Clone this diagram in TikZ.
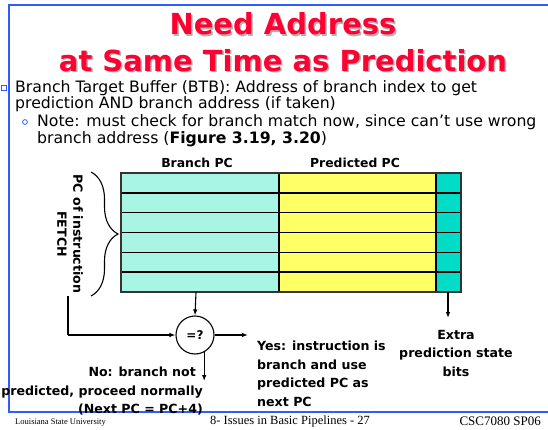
\documentclass[tikz,border=0pt]{standalone}
\usepackage{fontspec}
\setmainfont{DejaVu Sans}
\newfontfamily\footfont{Liberation Serif}
\usetikzlibrary{decorations.pathreplacing,arrows.meta}
\definecolor{frameblue}{HTML}{2E5CFF}
\definecolor{titlered}{HTML}{FF0033}
\definecolor{aquacell}{HTML}{A8F5E4}
\definecolor{yellowcell}{HTML}{FFFF66}
\definecolor{tealcell}{HTML}{00DCC6}
\begin{document}
\begin{tikzpicture}[x=1pt,y=-1pt,
  titletext/.style={anchor=base,text=titlered,font=\fontsize{29}{34}\selectfont\bfseries,inner sep=0},
  titleshade/.style={anchor=base,text=black!30,font=\fontsize{29}{34}\selectfont\bfseries,inner sep=0},
  bodytext/.style={anchor=north west,align=left,inner sep=0,font=\fontsize{15.7}{15.5}\selectfont},
  hdr/.style={font=\fontsize{12.4}{14}\selectfont\bfseries,inner sep=0},
  lbl/.style={font=\fontsize{12.6}{18.5}\selectfont\bfseries,inner sep=0},
  conn/.style={line width=1.1pt,-{Latex[length=6pt,width=4.5pt]}},
  rowline/.style={line width=1.4pt,black},
  footer/.style={font=\footfont,inner sep=0}]
\useasboundingbox (0,0) rectangle (548,430);
\fill[white] (0,0) rectangle (548,430);

% slide frame
\draw[frameblue,line width=1.6pt] (548,5) -- (9,5) -- (9,412) -- (548,412);

% title with drop shadow
\node[titleshade] at (284.5,36.5) {Need Address};
\node[titletext] (title1) at (283,35) {Need Address};
\node[titleshade] at (284.5,73) {at Same Time as Prediction};
\node[titletext] (title2) at (283,71.5) {at Same Time as Prediction};

% bullets
\draw[frameblue,line width=0.8pt] (1,85) rectangle (6,90);
\draw[frameblue,line width=0.8pt] (25,122) circle (2.4);
\node[bodytext] (body1) at (15,80.5) {Branch Target Buffer (BTB): Address of branch index to get\\prediction AND branch address (if taken)};
\node[bodytext,font=\fontsize{15.7}{17}\selectfont] (body2) at (37,114.5) {Note: must check for branch match now, since can't use wrong\\branch address (\textbf{Figure 3.19, 3.20})};

% branch target buffer table
\fill[aquacell] (121,173) rectangle (279,292);
\fill[yellowcell] (279,173) rectangle (436,292);
\fill[tealcell] (436,173) rectangle (461,292);
\foreach \i in {1,...,5}{
  \draw[rowline] (121,173+\i*19.83) -- (461,173+\i*19.83);
}
\draw[rowline] (279,173) -- (279,292);
\draw[rowline] (436,173) -- (436,292);
\draw[line width=1.3pt,black!80] (121,173) rectangle (461,292);

\node[hdr] (bpc) at (197,163) {Branch PC};
\node[hdr] (ppc) at (355,163) {Predicted PC};

% fetch PC brace
\draw[decorate,decoration={brace,amplitude=27pt},line width=1.1pt] (91,172) -- (91,296);
\node[hdr,rotate=-90,align=center,font=\fontsize{12.6}{16}\selectfont\bfseries] (fetch) at (70,234) {PC of instruction\\FETCH};

% comparator
\node[draw,circle,line width=1.1pt,minimum size=38pt,inner sep=0,font=\fontsize{12}{13}\selectfont\bfseries] (cmp) at (195,335) {=?};
\coordinate (feed) at (68,296);
\coordinate (bpcbot) at (196,292);
\coordinate (xbot) at (448,292);
\coordinate (xend) at (448,318);
\coordinate (yesin) at (248,335);
\coordinate (noend) at (204,381);

\draw[line width=1.1pt] (feed) -- (68,335);
\draw[conn] (68,335) -- (cmp.west);
\draw[conn] (bpcbot) -- (cmp.north);
\draw[conn] (cmp.east) -- (yesin);
\draw[conn] (cmp.-62) -- (cmp.-62 |- noend);
\draw[conn] (xbot) -- (xend);

% outcome labels
\node[lbl,anchor=north west,align=left] (yes) at (257,341) {Yes: instruction is\\branch and use\\predicted PC as\\next PC};
\node[lbl,anchor=north,align=center] (extra) at (456,330) {Extra\\prediction state\\bits};
\node[lbl,anchor=north east,align=right] (no) at (203,367) {No: branch not\kern7pt\\predicted, proceed normally\\(Next PC = PC+4)};

% footer
\node[footer,anchor=west,font=\footfont\fontsize{8.5}{10}\selectfont] (univ) at (15,423) {Louisiana State University};
\node[footer,font=\footfont\fontsize{12.5}{14}\selectfont] (slide) at (290,421) {8- Issues in Basic Pipelines - 27};
\node[footer,anchor=east,font=\footfont\fontsize{13}{15}\selectfont] (course) at (541,421) {CSC7080 SP06};
\end{tikzpicture}
\end{document}
